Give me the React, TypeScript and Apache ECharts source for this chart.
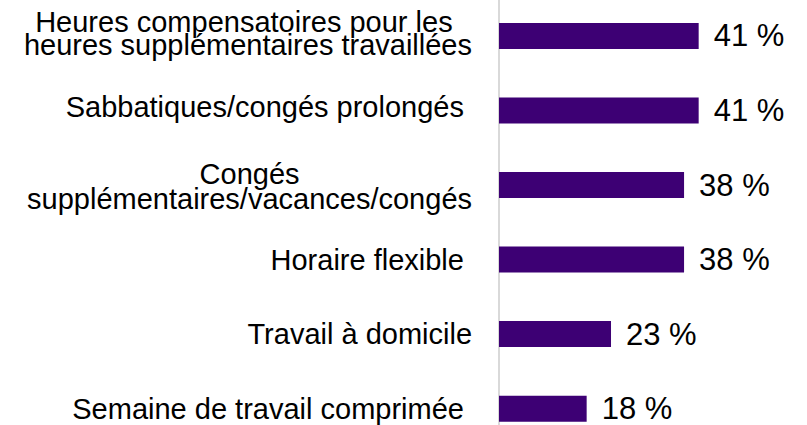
import React, { useEffect, useRef } from "react";
import * as echarts from "echarts";

const categories: string[] = [
  "Heures compensatoires pour les\u00a0\nheures supplémentaires travaillées",
  "Sabbatiques/congés prolongés\u00a0",
  "Congés\nsupplémentaires/vacances/congés",
  "Horaire flexible\u00a0",
  "Travail à domicile",
  "Semaine de travail comprimée\u00a0",
];
const values: number[] = [41, 41, 38, 38, 23, 18];
const valueSuffix = " %";

const FONT = "'Liberation Sans', Arial, Helvetica, sans-serif";
const LH = 28;

const base = {
  align: "center",
  color: "#000",
  fontFamily: FONT,
  fontSize: 29,
  lineHeight: LH,
};

export default function App() {
  const ref = useRef<HTMLDivElement>(null);
  useEffect(() => {
    if (!ref.current) return;
    const chart = echarts.init(ref.current, null, { renderer: "svg" });
    chart.setOption({
      animation: false,
      grid: { left: 499, right: 64.5, top: 0.7, bottom: 22.1, containLabel: false },
      xAxis: {
        type: "value",
        min: 0,
        max: 50,
        show: false,
      },
      yAxis: {
        type: "category",
        data: categories,
        inverse: true,
        offset: 1.5,
        axisLine: { show: true, lineStyle: { color: "#d9d9d9", width: 2 } },
        axisTick: { show: false },
        splitLine: { show: false },
        axisLabel: {
          align: "right",
          margin: 25.5,
          color: "#000",
          fontFamily: FONT,
          fontSize: 29,
          lineHeight: LH,
          formatter: (v: string, i: number) => {
            const lines = v.split("\n");
            if (i === 0) return `{c|${lines[0]}}\n{up|${lines[1]}}`;
            if (i === 1) return `{s|${lines[0]}}`;
            if (lines.length > 1) return `{down|${lines[0]}}\n{c|${lines[1]}}`;
            return `{c|${lines[0]}}`;
          },
          rich: {
            c: { ...base },
            up: { ...base, padding: [0, 0, 9, 0] },
            down: { ...base, padding: [5, 0, 0, 0] },
            s: { ...base, padding: [0, 0, 8, 0] },
          },
        },
      },
      series: [
        {
          type: "bar",
          data: values,
          barWidth: 26,
          itemStyle: { color: "#3d0074" },
          label: {
            show: true,
            position: "right",
            distance: 15,
            color: "#000",
            fontFamily: FONT,
            fontSize: 31,
            formatter: (p: any) => `${p.value}${valueSuffix}`,
          },
        },
      ],
    });
    return () => chart.dispose();
  }, []);
  return (
    <div
      ref={ref}
      style={{ position: "fixed", left: 0, top: -2, width: 807, height: 470, background: "#fff" }}
    />
  );
}
